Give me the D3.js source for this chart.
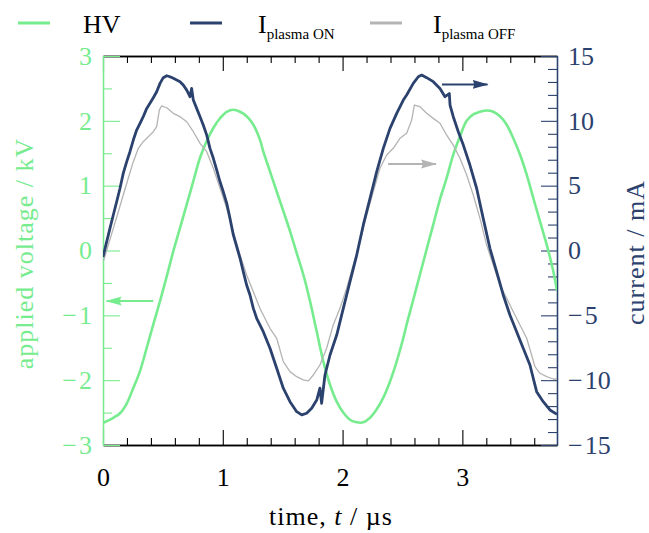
<!DOCTYPE html>
<html>
<head>
<meta charset="utf-8">
<script src="https://cdn.jsdelivr.net/npm/d3@7"></script>
<style>
  html, body { margin: 0; padding: 0; background: #fff; }
  svg { display: block; }
  text { font-family: "Liberation Serif", "Times New Roman", serif; }
</style>
</head>
<body>
<svg id="chart" width="649" height="533"></svg>
<script>
// ---------- data ----------
const hvT = [0.00, 0.086, 0.142, 0.198, 0.253, 0.309, 0.365, 0.420, 0.476, 0.532, 0.587, 0.643, 0.699, 0.754, 0.810, 0.866, 0.921, 0.977, 1.033, 1.088, 1.144, 1.199, 1.255, 1.310, 1.338, 1.394, 1.450, 1.505, 1.561, 1.617, 1.672, 1.728, 1.784, 1.839, 1.895, 1.951, 2.006, 2.062, 2.118, 2.173, 2.229, 2.285, 2.340, 2.396, 2.452, 2.507, 2.535, 2.590, 2.646, 2.702, 2.757, 2.813, 2.869, 2.924, 2.980, 3.036, 3.091, 3.147, 3.203, 3.258, 3.314, 3.370, 3.425, 3.481, 3.537, 3.592, 3.648, 3.704, 3.759, 3.790];
const hvV = [-2.66, -2.58, -2.51, -2.36, -2.12, -1.86, -1.50, -1.14, -0.78, -0.40, -0.01, 0.35, 0.71, 1.07, 1.43, 1.69, 1.89, 2.04, 2.14, 2.17, 2.14, 2.07, 1.94, 1.71, 1.53, 1.22, 0.91, 0.61, 0.30, -0.04, -0.37, -0.78, -1.25, -1.71, -2.07, -2.33, -2.50, -2.61, -2.65, -2.65, -2.58, -2.45, -2.27, -2.02, -1.71, -1.35, -1.14, -0.76, -0.37, 0.02, 0.40, 0.79, 1.12, 1.48, 1.76, 2.00, 2.10, 2.14, 2.16, 2.14, 2.07, 1.94, 1.73, 1.48, 1.17, 0.81, 0.45, 0.09, -0.32, -0.62];

const onT = [0.000, 0.031, 0.058, 0.086, 0.114, 0.142, 0.169, 0.198, 0.225, 0.253, 0.281, 0.309, 0.336, 0.365, 0.392, 0.420, 0.448, 0.476, 0.503, 0.532, 0.559, 0.587, 0.615, 0.643, 0.670, 0.699, 0.726, 0.740, 0.754, 0.782, 0.810, 0.837, 0.866, 0.893, 0.921, 0.949, 0.977, 1.004, 1.033, 1.060, 1.088, 1.116, 1.144, 1.171, 1.199, 1.227, 1.255, 1.283, 1.338, 1.394, 1.450, 1.505, 1.561, 1.617, 1.659, 1.700, 1.742, 1.784, 1.811, 1.825, 1.853, 1.895, 1.951, 2.006, 2.062, 2.118, 2.173, 2.229, 2.285, 2.340, 2.396, 2.452, 2.507, 2.535, 2.590, 2.632, 2.660, 2.702, 2.757, 2.813, 2.855, 2.891, 2.897, 2.924, 2.966, 3.008, 3.063, 3.119, 3.174, 3.230, 3.286, 3.341, 3.397, 3.453, 3.508, 3.564, 3.620, 3.675, 3.731, 3.790];
const onI = [-0.5, 0.68, 1.71, 2.74, 3.76, 4.80, 5.95, 6.85, 7.62, 8.52, 9.29, 9.81, 10.32, 10.96, 11.35, 11.78, 12.24, 12.89, 13.33, 13.48, 13.40, 13.28, 13.15, 13.02, 12.76, 12.37, 11.86, 12.50, 11.60, 10.96, 10.32, 9.68, 8.90, 7.88, 7.11, 6.21, 5.30, 4.53, 3.64, 2.48, 1.20, 0.29, -0.60, -1.63, -2.66, -3.43, -4.46, -5.23, -6.26, -7.54, -9.08, -10.62, -11.66, -12.43, -12.68, -12.55, -12.17, -11.53, -10.62, -11.78, -9.60, -8.06, -6.52, -4.46, -2.40, -0.35, 1.97, 4.02, 6.08, 7.88, 9.42, 10.58, 11.60, 11.99, 12.89, 13.40, 13.53, 13.33, 13.02, 12.50, 11.86, 12.10, 11.22, 10.32, 9.16, 8.13, 6.59, 4.80, 2.48, 0.17, -1.63, -3.43, -4.97, -6.26, -7.54, -8.83, -10.89, -11.66, -12.30, -12.63];

const offT = [0.005, 0.044, 0.086, 0.128, 0.169, 0.211, 0.253, 0.295, 0.336, 0.378, 0.420, 0.448, 0.470, 0.490, 0.532, 0.587, 0.643, 0.699, 0.754, 0.810, 0.866, 0.921, 0.977, 1.033, 1.088, 1.144, 1.199, 1.255, 1.310, 1.338, 1.394, 1.450, 1.505, 1.561, 1.617, 1.672, 1.714, 1.756, 1.811, 1.867, 1.922, 1.978, 2.034, 2.089, 2.145, 2.201, 2.256, 2.312, 2.368, 2.423, 2.479, 2.535, 2.577, 2.599, 2.646, 2.702, 2.757, 2.813, 2.869, 2.924, 2.980, 3.036, 3.091, 3.147, 3.203, 3.258, 3.314, 3.370, 3.425, 3.481, 3.537, 3.578, 3.606, 3.648, 3.704, 3.759, 3.790];
const offI = [-0.8, 0.42, 1.71, 2.99, 4.28, 5.57, 6.85, 7.88, 8.39, 8.77, 9.16, 9.55, 10.83, 11.16, 11.01, 10.58, 10.32, 9.93, 9.16, 8.26, 7.62, 6.34, 4.80, 3.25, 1.45, -0.35, -1.89, -3.18, -4.46, -4.97, -6.00, -6.77, -8.57, -9.34, -9.73, -9.98, -10.06, -9.60, -8.83, -7.54, -5.74, -4.46, -2.91, -1.12, 0.68, 2.74, 4.53, 6.34, 7.36, 7.88, 8.65, 9.04, 10.06, 11.22, 11.09, 10.58, 10.19, 9.81, 8.90, 8.13, 7.11, 5.82, 4.28, 2.48, 0.42, -1.12, -2.66, -3.69, -4.72, -5.74, -6.77, -8.06, -8.96, -9.47, -9.73, -9.91, -9.91];

// axis ranges and ticks
const tDomain = [0, 3.79];
const vDomain = [-3, 3];
const iDomain = [-15, 15];
const tMajor = [0, 1, 2, 3];
const tMinor = [0.2, 0.4, 0.6, 0.8, 1.2, 1.4, 1.6, 1.8, 2.2, 2.4, 2.6, 2.8, 3.2, 3.4, 3.6];
const vMajor = [-3, -2, -1, 0, 1, 2, 3];
const vMinor = [-2.5, -1.5, -0.5, 0.5, 1.5, 2.5];
const iMajor = [-15, -10, -5, 0, 5, 10, 15];
const iMinor = [-14, -13, -12, -11, -9, -8, -7, -6, -4, -3, -2, -1, 1, 2, 3, 4, 6, 7, 8, 9, 11, 12, 13, 14];

// annotation arrows: [t start, t end, value]
const arrowHV = [0.42, 0.03, -0.78];
const arrowOff = [2.38, 2.78, 6.67];
const arrowOn = [2.83, 3.21, 12.81];

const legendNames = ["HV", "I", "I"];
const legendSubs = ["", "plasma ON", "plasma OFF"];

// ---------- styles ----------
const cGreen = "#77ec8f";
const cNavy = "#2c426e";
const cGray = "#b4b4b4";

const svg = d3.select("#chart");
const L = 103, R = 557, T = 56, B = 445;

const x = d3.scaleLinear().domain(tDomain).range([L, R]);
const yV = d3.scaleLinear().domain(vDomain).range([B, T]);
const yI = d3.scaleLinear().domain(iDomain).range([B, T]);

const fmt = d => d < 0 ? "\u2212\u200a" + Math.abs(d) : String(d);

// defs: clip + arrow markers
const defs = svg.append("defs");
defs.append("clipPath").attr("id", "clip").append("rect")
  .attr("x", L).attr("y", T).attr("width", R - L).attr("height", B - T);
function marker(id, color) {
  defs.append("marker").attr("id", id)
    .attr("viewBox", "0 0 16 10").attr("refX", 15).attr("refY", 5)
    .attr("markerUnits", "userSpaceOnUse")
    .attr("markerWidth", 16).attr("markerHeight", 10)
    .attr("orient", "auto")
    .append("path").attr("d", "M0,0.5 L16,5 L0,9.5 Q3,5 0,0.5 Z").attr("fill", color);
}
marker("mGreen", cGreen); marker("mNavy", cNavy); marker("mGray", cGray);

// ---------- axes ----------
svg.append("g").attr("transform", `translate(0,${B})`)
  .call(d3.axisBottom(x).tickValues(tMajor).tickSizeInner(-15).tickSizeOuter(0).tickPadding(23).tickFormat(d3.format("d")));
svg.append("g").attr("transform", `translate(0,${B})`)
  .call(d3.axisBottom(x).tickValues(tMinor).tickSizeInner(-7).tickSizeOuter(0).tickFormat(""));
svg.append("g").attr("transform", `translate(0,${T})`)
  .call(d3.axisTop(x).tickValues(tMajor).tickSizeInner(-15).tickSizeOuter(0).tickFormat(""));
svg.append("g").attr("transform", `translate(0,${T})`)
  .call(d3.axisTop(x).tickValues(tMinor).tickSizeInner(-7).tickSizeOuter(0).tickFormat(""));

svg.append("g").attr("class", "lax").attr("transform", `translate(${L},0)`)
  .call(d3.axisLeft(yV).tickValues(vMinor).tickSizeInner(-9).tickSizeOuter(0).tickFormat(""));
svg.append("g").attr("class", "lax").attr("transform", `translate(${L},0)`)
  .call(d3.axisLeft(yV).tickValues(vMajor).tickSizeInner(-17).tickSizeOuter(0).tickPadding(11).tickFormat(fmt));

svg.append("g").attr("class", "rax").attr("transform", `translate(${R},0)`)
  .call(d3.axisRight(yI).tickValues(iMinor).tickSizeInner(-9).tickSizeOuter(0).tickFormat(""));
svg.append("g").attr("class", "rax").attr("transform", `translate(${R},0)`)
  .call(d3.axisRight(yI).tickValues(iMajor).tickSizeInner(-16).tickSizeOuter(0).tickPadding(11).tickFormat(fmt));

svg.selectAll(".tick text").attr("font-size", 26).attr("font-family", "Liberation Serif");
svg.selectAll(".domain").attr("stroke-width", 1.3);
svg.selectAll(".tick line").attr("stroke-width", 1.1);
svg.selectAll(".lax .domain, .lax line").attr("stroke", cGreen);
svg.selectAll(".lax text").attr("fill", cGreen);
svg.selectAll(".rax .domain, .rax line").attr("stroke", cNavy);
svg.selectAll(".rax text").attr("fill", cNavy);

// ---------- curves ----------
const plot = svg.append("g").attr("clip-path", "url(#clip)");
const lineV = d3.line().x(d => x(d[0])).y(d => yV(d[1])).curve(d3.curveCatmullRom);
const lineI = d3.line().x(d => x(d[0])).y(d => yI(d[1]));

plot.append("path").datum(d3.zip(hvT, hvV)).attr("d", lineV)
  .attr("fill", "none").attr("stroke", cGreen).attr("stroke-width", 2.6).attr("stroke-linejoin", "round");
plot.append("path").datum(d3.zip(offT, offI)).attr("d", lineI)
  .attr("fill", "none").attr("stroke", cGray).attr("stroke-width", 1.3).attr("stroke-linejoin", "round");
plot.append("path").datum(d3.zip(onT, onI)).attr("d", lineI)
  .attr("fill", "none").attr("stroke", cNavy).attr("stroke-width", 2.8).attr("stroke-linejoin", "round");

function arrow(a, ys, color, m) {
  svg.append("line")
    .attr("x1", x(a[0])).attr("x2", x(a[1]))
    .attr("y1", ys(a[2])).attr("y2", ys(a[2]))
    .attr("stroke", color).attr("stroke-width", 2)
    .attr("marker-end", `url(#${m})`);
}
arrow(arrowHV, yV, cGreen, "mGreen");
arrow(arrowOff, yI, cGray, "mGray");
arrow(arrowOn, yI, cNavy, "mNavy");

// ---------- axis titles ----------
const xt = svg.append("text").attr("x", (L + R) / 2 + 1).attr("y", 525)
  .attr("text-anchor", "middle").attr("font-size", 26).attr("letter-spacing", 1).attr("fill", "#000");
xt.append("tspan").text("time, ");
xt.append("tspan").attr("font-style", "italic").text("t");
xt.append("tspan").text(" / \u00b5s");

svg.append("text").attr("transform", `translate(33,${(T + B) / 2 + 3}) rotate(-90)`)
  .attr("text-anchor", "middle").attr("font-size", 26).attr("letter-spacing", 1).attr("fill", cGreen)
  .text("applied voltage / kV");
svg.append("text").attr("transform", `translate(644,${(T + B) / 2 + 2}) rotate(-90)`)
  .attr("text-anchor", "middle").attr("font-size", 26).attr("letter-spacing", 1).attr("fill", cNavy)
  .text("current / mA");

// ---------- legend ----------
const legColors = [cGreen, cNavy, cGray];
const legLineX = [18, 190, 370];
const legTextX = [83, 258, 433];
legendNames.forEach((n, i) => {
  svg.append("line").attr("x1", legLineX[i]).attr("x2", legLineX[i] + 32)
    .attr("y1", 23).attr("y2", 23).attr("stroke", legColors[i]).attr("stroke-width", 3);
  const t = svg.append("text").attr("x", legTextX[i]).attr("y", 33)
    .attr("font-size", 26).attr("fill", "#000");
  t.append("tspan").text(n);
  if (legendSubs[i]) {
    t.append("tspan").attr("font-size", 15).attr("dy", 6).text(legendSubs[i]);
  }
});
</script>
</body>
</html>
